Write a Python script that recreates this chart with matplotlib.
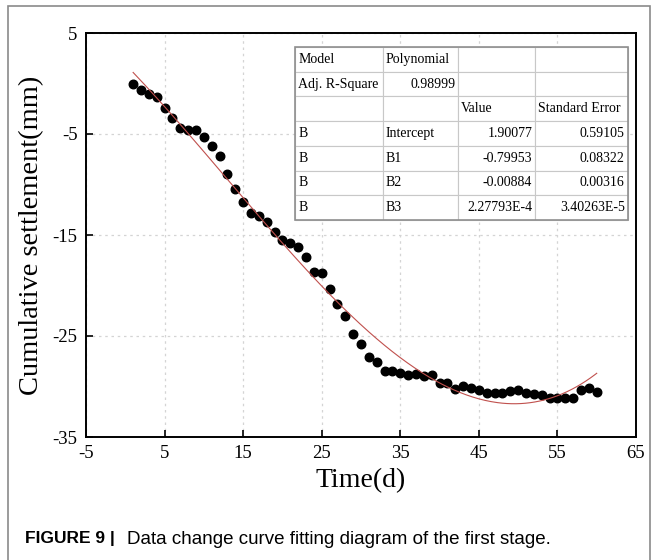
import numpy as np
import matplotlib
matplotlib.use('Agg')
import matplotlib.pyplot as plt
from matplotlib.patches import Rectangle

# measured settlement (mm) per day
days = list(range(1, 61))
settlement = [-0.08, -0.64, -1.0, -1.34, -2.43, -3.38, -4.37, -4.57, -4.57, -5.3,
              -6.22, -7.21, -8.99, -10.41, -11.7, -12.79, -13.15, -13.71, -14.72, -15.5,
              -15.76, -16.2, -17.15, -18.63, -18.73, -20.38, -21.8, -23.0, -24.83, -25.79,
              -27.12, -27.6, -28.47, -28.5, -28.65, -28.83, -28.73, -28.96, -28.86, -29.65,
              -29.62, -30.25, -29.98, -30.15, -30.38, -30.68, -30.68, -30.68, -30.48, -30.31,
              -30.61, -30.74, -30.81, -31.1, -31.1, -31.1, -31.1, -30.31, -30.11, -30.5]

# polynomial fit coefficients from the table (intercept, B1, B2, B3)
coef = [1.90077, -0.79953, -0.00884, 2.27793e-4]

table_rows = [
    ['Model', 'Polynomial', '', ''],
    ['Adj. R-Square', '0.98999', '', ''],
    ['', '', 'Value', 'Standard Error'],
    ['B', 'Intercept', '1.90077', '0.59105'],
    ['B', 'B1', '-0.79953', '0.08322'],
    ['B', 'B2', '-0.00884', '0.00316'],
    ['B', 'B3', '2.27793E-4', '3.40263E-5'],
]

xticks = [-5, 5, 15, 25, 35, 45, 55, 65]
yticks = [5, -5, -15, -25, -35]

plt.rcParams['font.family'] = 'Liberation Serif'
plt.rcParams['axes.unicode_minus'] = False

W, H = 653, 560
fig = plt.figure(figsize=(W / 100, H / 100), dpi=100)

# outer grey frame
fig.patches.append(Rectangle((8 / W, -0.01), (650 - 8) / W, 1.01 - 6 / H,
                             transform=fig.transFigure, fill=False,
                             edgecolor='#8a8a8a', linewidth=1.2))

ax = fig.add_axes([86 / W, 1 - 437 / H, 550 / W, 404 / H])

ax.scatter(days, settlement, s=38, color='black', zorder=3)
t = np.linspace(days[0], days[-1], 300)
fit = np.polyval(coef[::-1], t)
ax.plot(t, fit, color='#c0504d', linewidth=0.8, zorder=4)

ax.set_xlim(-5, 65)
ax.set_ylim(-35, 5)
ax.set_xticks(xticks)
ax.set_yticks(yticks)
ax.tick_params(direction='in', length=5, width=1.2, labelsize=13.5,
               top=False, right=False, pad=6)
for s in ax.spines.values():
    s.set_linewidth(1.4)
ax.grid(True, color='#d4d4d4', linestyle=(0, (2, 3)), linewidth=0.9)
ax.set_axisbelow(True)
ax.set_xlabel('Time(d)', fontsize=20, labelpad=4)
ax.set_ylabel('Cumulative settlement(mm)', fontsize=20.5, labelpad=6)

# fit parameter table
col_w = np.array([88, 75, 77, 93], dtype=float)
tb = ax.table(cellText=table_rows, colWidths=list(col_w / col_w.sum()),
              bbox=[(295 - 86) / 550, (437 - 220) / 404, 333 / 550, 173 / 404],
              zorder=5)
tb.auto_set_font_size(False)
for (r, c), cell in tb.get_celld().items():
    cell.set_edgecolor('#c8c8c8')
    cell.set_linewidth(0.8)
    cell.set_facecolor('white')
    cell.PAD = 0.035
    txt = cell.get_text()
    txt.set_fontsize(10)
    txt.set_fontfamily('Liberation Serif')
    numeric = (r >= 3 and c >= 2) or (r == 1 and c == 1)
    cell.set_text_props(ha='right' if numeric else 'left')
ax.add_patch(Rectangle(((295 - 86) / 550, (437 - 220) / 404), 333 / 550, 173 / 404,
                       transform=ax.transAxes, fill=False, edgecolor='#8f8f8f',
                       linewidth=1.2, zorder=6))

fig.text(25 / W, 1 - 539 / H, 'FIGURE 9 |', fontsize=12.5, fontweight='bold',
         family='Liberation Sans', va='center', ha='left')
fig.text(127 / W, 1 - 539 / H, 'Data change curve fitting diagram of the first stage.',
         fontsize=13.5, family='Liberation Sans', va='center', ha='left')

fig.savefig('out.png', dpi=100)
